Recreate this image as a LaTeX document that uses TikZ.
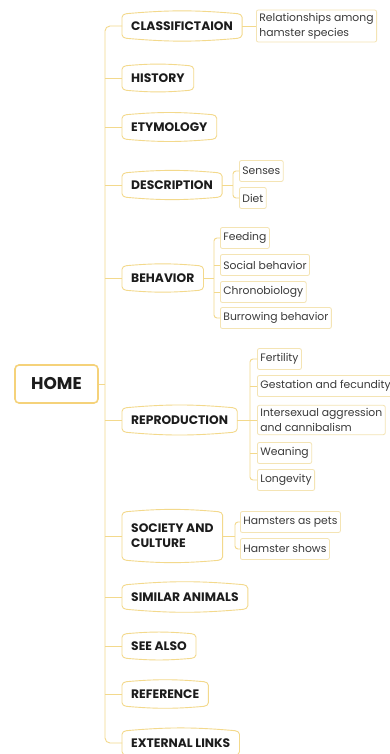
\documentclass[tikz,border=0pt]{standalone}
\usepackage{fontspec}
\setmainfont{Poppins}
\definecolor{gold}{HTML}{F3D98C}
\definecolor{paleg}{HTML}{F4E4B4}
\definecolor{homeg}{HTML}{F5D27A}
\definecolor{ink}{HTML}{1C1C1C}
\definecolor{subink}{HTML}{3A3A3A}
\tikzset{
  link/.style={draw=gold, line width=0.9},
  mainbox/.style={anchor=west, inner xsep=9, inner ysep=0, minimum height=24,
    font=\fontsize{12.3}{15}\selectfont\bfseries, text=ink, align=left},
  subbox/.style={anchor=west, draw=paleg, line width=0.8, rounded corners=2,
    inner xsep=3, inner ysep=3, minimum height=21,
    font=\fontsize{10.8}{15}\selectfont, text=subink, align=left},
  homebox/.style={draw=homeg, line width=1.6, rounded corners=4, minimum width=83,
    minimum height=38, font=\fontsize{17}{19}\selectfont\bfseries, text=ink},
}
\begin{document}
\begin{tikzpicture}[x=1pt,y=-1pt]
	\useasboundingbox[fill=white] (0,0) rectangle (390,754);
	% root and trunk
	\node[homebox] (home) at (56.5,384) {HOME};
	\coordinate (tr) at (105,384);
	% main topics
	\node[mainbox] (cls) at (122,26) {CLASSIFICTAION};
	\node[mainbox] (his) at (122,78) {HISTORY};
	\node[mainbox] (ety) at (122,127) {ETYMOLOGY};
	\node[mainbox] (des) at (122,185) {DESCRIPTION};
	\node[mainbox] (beh) at (122,278) {BEHAVIOR};
	\node[mainbox] (rep) at (122,420) {REPRODUCTION};
	\node[mainbox, minimum height=48] (soc) at (122,536) {SOCIETY AND\\CULTURE};
	\node[mainbox] (sim) at (122,597) {SIMILAR ANIMALS};
	\node[mainbox] (see) at (122,646) {SEE ALSO};
	\node[mainbox] (ref) at (122,694) {REFERENCE};
	\node[mainbox] (ext) at (122,743) {EXTERNAL LINKS};
	\foreach \n in {cls,his,ety,des,beh,rep,soc,sim,see,ref,ext}
		\draw[link, rounded corners=1.5]
			([yshift=-2]\n.north west) -- ([xshift=3]\n.north west)
			to[bend left=5] ([xshift=-3]\n.north east) -- ([yshift=-2]\n.north east)
			-- ([yshift=2]\n.south east) -- ([xshift=-3]\n.south east)
			to[bend left=5] ([xshift=3]\n.south west) -- ([yshift=2]\n.south west) -- cycle;
	\draw[link] (home.east) -- (tr);
	\draw[link, rounded corners=5] (cls.west) -| (tr) |- (ext.west);
	\foreach \n in {his,ety,des,beh,rep,soc,sim,see,ref}
		\draw[link] (tr |- \n.west) -- (\n.west);
	% classification
	\node[subbox] (rel) at (256,26) {Relationships among\\hamster species};
	\draw[link] (cls.east) -- (rel.west);
	% description
	\node[subbox] (sen) at (239,171) {Senses};
	\node[subbox] (die) at (239,198) {Diet};
	\coordinate (dtr) at (233,185);
	\draw[link] (des.east) -- (dtr);
	\draw[link, rounded corners=3] (sen.west) -| (dtr) |- (die.west);
	% behavior
	\node[subbox] (fee) at (220,238) {Feeding};
	\node[subbox] (sob) at (220,265) {Social behavior};
	\node[subbox] (chr) at (220,292) {Chronobiology};
	\node[subbox] (bur) at (220,318) {Burrowing behavior};
	\coordinate (btr) at (214,278);
	\draw[link] (beh.east) -- (btr);
	\draw[link, rounded corners=3] (fee.west) -| (btr) |- (bur.west);
	\foreach \n in {sob,chr}
		\draw[link] (btr |- \n.west) -- (\n.west);
	% reproduction
	\node[subbox] (fer) at (257,359) {Fertility};
	\node[subbox] (ges) at (257,386) {Gestation and fecundity};
	\node[subbox] (int) at (257,420) {Intersexual aggression\\and cannibalism};
	\node[subbox] (wea) at (257,453) {Weaning};
	\node[subbox] (lon) at (257,480) {Longevity};
	\coordinate (rtr) at (250,420);
	\draw[link] (rep.east) -- (rtr);
	\draw[link, rounded corners=3] (fer.west) -| (rtr) |- (lon.west);
	\foreach \n in {ges,int,wea}
		\draw[link] (rtr |- \n.west) -- (\n.west);
	% society and culture
	\node[subbox] (pet) at (240,522) {Hamsters as pets};
	\node[subbox] (sho) at (240,549) {Hamster shows};
	\coordinate (str) at (235,536);
	\draw[link] (soc.east) -- (str);
	\draw[link, rounded corners=3] (pet.west) -| (str) |- (sho.west);
\end{tikzpicture}
\end{document}
